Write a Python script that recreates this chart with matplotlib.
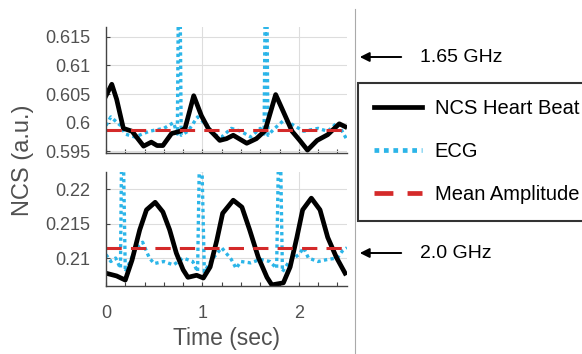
# -*- coding: utf-8 -*-
import numpy as np
import matplotlib
matplotlib.use("Agg")
import matplotlib.pyplot as plt
from matplotlib.lines import Line2D
from matplotlib.patches import FancyArrowPatch

plt.rcParams["font.family"] = ["Liberation Sans", "DejaVu Sans"]

# 1.65 GHz (上段)
t_ncs_top = [0.0, 0.06, 0.11, 0.18, 0.27, 0.39, 0.47, 0.53, 0.59, 0.68, 0.77, 0.82, 0.91,
             0.99, 1.06, 1.18, 1.25, 1.32, 1.46, 1.56, 1.65, 1.76, 1.84, 1.93, 2.01, 2.09,
             2.19, 2.30, 2.42, 2.48]
ncs_top = [0.6047, 0.6067, 0.6041, 0.5990, 0.5985, 0.5959, 0.5966, 0.5960, 0.5960, 0.5981,
           0.5985, 0.5990, 0.6047, 0.6012, 0.5990, 0.5969, 0.5972, 0.5978, 0.5964, 0.5972,
           0.5986, 0.6049, 0.6019, 0.5985, 0.5969, 0.5952, 0.5969, 0.5979, 0.5998, 0.5993]
t_ecg_top = [0.0, 0.05, 0.15, 0.2, 0.3, 0.45, 0.6, 0.7, 0.74, 0.755, 0.765, 0.78, 0.85, 0.95,
             1.05, 1.1, 1.2, 1.3, 1.4, 1.5, 1.6, 1.64, 1.655, 1.665, 1.68, 1.75, 1.85, 1.95,
             2.05, 2.2, 2.3, 2.4, 2.45, 2.5]
ecg_top = [0.5995, 0.6010, 0.5995, 0.5980, 0.5975, 0.5985, 0.5990, 0.6000, 0.5980, 0.6300,
           0.6300, 0.5978, 0.5985, 0.6010, 0.5995, 0.5980, 0.5975, 0.5990, 0.5985, 0.5975,
           0.5990, 0.5980, 0.6300, 0.6300, 0.5978, 0.5990, 0.6005, 0.5995, 0.5985, 0.5990,
           0.5985, 0.6000, 0.5985, 0.5970]
mean_top = 0.5988

# 2.0 GHz (下段)
t_ncs_bot = [0.0, 0.11, 0.2, 0.27, 0.35, 0.42, 0.51, 0.59, 0.66, 0.73, 0.8, 0.85, 0.94, 1.01,
             1.08, 1.15, 1.21, 1.32, 1.41, 1.49, 1.58, 1.67, 1.72, 1.84, 1.91, 1.98, 2.04,
             2.13, 2.22, 2.3, 2.39, 2.48]
ncs_bot = [0.2078, 0.2074, 0.2068, 0.2097, 0.2141, 0.2170, 0.2181, 0.2167, 0.2141, 0.2107,
           0.2083, 0.2072, 0.2075, 0.2071, 0.2087, 0.2126, 0.2165, 0.2184, 0.2174, 0.2141,
           0.2101, 0.2072, 0.2061, 0.2064, 0.2087, 0.2130, 0.2170, 0.2187, 0.2170, 0.2130,
           0.2101, 0.2078]
t_ecg_bot = [0.0, 0.05, 0.1, 0.15, 0.165, 0.175, 0.2, 0.25, 0.3, 0.38, 0.45, 0.5, 0.6, 0.7,
             0.8, 0.9, 0.95, 0.975, 0.985, 1.02, 1.1, 1.2, 1.3, 1.35, 1.4, 1.5, 1.6, 1.7,
             1.77, 1.795, 1.805, 1.83, 1.9, 2.0, 2.05, 2.1, 2.2, 2.3, 2.4, 2.45, 2.5]
ecg_bot = [0.2105, 0.2095, 0.2100, 0.2085, 0.2300, 0.2300, 0.2080, 0.2095, 0.2112, 0.2123,
           0.2100, 0.2092, 0.2095, 0.2090, 0.2100, 0.2095, 0.2080, 0.2300, 0.2300, 0.2080,
           0.2098, 0.2115, 0.2098, 0.2085, 0.2095, 0.2093, 0.2098, 0.2095, 0.2085, 0.2300,
           0.2300, 0.2080, 0.2095, 0.2105, 0.2115, 0.2100, 0.2095, 0.2098, 0.2100, 0.2110,
           0.2115]
mean_bot = 0.2115

ncs_color = "black"
ecg_color = "#2cb5e8"
mean_color = "#d42a2a"
text_color = "#505050"

fig = plt.figure(figsize=(5.82, 3.54), dpi=100)
W, H = 582.0, 354.0

ax1 = fig.add_axes([106 / W, 1 - 153 / H, 241 / W, 126 / H])
ax2 = fig.add_axes([106 / W, 1 - 286 / H, 241 / W, 114 / H])


def style_axes(ax):
    for s in ["top", "right"]:
        ax.spines[s].set_visible(False)
    for s in ["left", "bottom"]:
        ax.spines[s].set_color("#444444")
        ax.spines[s].set_linewidth(1.0)
    ax.set_xlim(0, 2.5)
    ax.set_xticks([0, 1, 2])
    ax.set_xticks(np.arange(0, 2.51, 0.2), minor=True)
    ax.tick_params(direction="in", length=3, width=0.8, colors="#444444",
                   labelcolor=text_color, labelsize=13)
    ax.tick_params(axis="y", pad=11)
    ax.tick_params(axis="x", pad=14)
    ax.tick_params(which="minor", direction="in", length=3, width=0.8, colors="#444444")
    ax.grid(True, color="#dddddd", linewidth=0.8)
    ax.set_axisbelow(True)


for ax in (ax1, ax2):
    style_axes(ax)

# 上段
ax1.plot(t_ecg_top, ecg_top, color=ecg_color, lw=2.4, linestyle=(0, (1, 1)))
ax1.plot(t_ncs_top, ncs_top, color=ncs_color, lw=3.4)
ax1.axhline(mean_top, color=mean_color, lw=2.2, dashes=(5, 3))
ax1.set_ylim(0.5947, 0.6167)
ax1.set_yticks([0.595, 0.6, 0.605, 0.61, 0.615])
ax1.set_yticklabels(["0.595", "0.6", "0.605", "0.61", "0.615"])
ax1.tick_params(axis="x", labelbottom=False)

# 下段
ax2.plot(t_ecg_bot, ecg_bot, color=ecg_color, lw=2.4, linestyle=(0, (1, 1)))
ax2.plot(t_ncs_bot, ncs_bot, color=ncs_color, lw=3.4)
ax2.axhline(mean_bot, color=mean_color, lw=2.2, dashes=(5, 3))
ax2.set_ylim(0.20594, 0.2225)
ax2.set_yticks([0.21, 0.215, 0.22])
ax2.set_yticklabels(["0.21", "0.215", "0.22"])
ax2.set_xticklabels(["0", "1", "2"])
ax2.set_xlabel("Time (sec)", fontsize=16.5, color=text_color, labelpad=3)

fig.text(23 / W, 1 - 160 / H, "NCS (a.u.)", rotation=90, fontsize=17,
         color=text_color, ha="center", va="center")

# 区切り線
fig.add_artist(Line2D([355 / W, 355 / W], [0, 1 - 9 / H], color="#aaaaaa", lw=0.8))

# 矢印と周波数
for y_px, label in [(57, "1.65 GHz"), (253, "2.0 GHz")]:
    fig.add_artist(FancyArrowPatch(
        (404 / W, 1 - y_px / H), (357 / W, 1 - y_px / H),
        transform=fig.transFigure, arrowstyle="-|>", mutation_scale=14,
        color="black", lw=1.4))
    fig.text(420 / W, 1 - y_px / H, label, fontsize=14, va="center", ha="left")

# 凡例
handles = [Line2D([], [], color=ncs_color, lw=3.4),
           Line2D([], [], color=ecg_color, lw=3.4, linestyle=(0, (1, 1))),
           Line2D([], [], color=mean_color, lw=3.4, dashes=(4, 3))]
labels = ["NCS Heart Beat", "ECG", "Mean Amplitude"]
leg = fig.legend(handles, labels, loc="upper left",
                 bbox_to_anchor=(358 / W, 1 - 83 / H), fontsize=14.5,
                 frameon=True, fancybox=False, handlelength=2.4,
                 labelspacing=1.2, borderpad=0.8, handletextpad=0.6,
                 borderaxespad=0)
leg.get_frame().set_edgecolor("black")
leg.get_frame().set_linewidth(1.5)

fig.savefig("out.png", dpi=100)
